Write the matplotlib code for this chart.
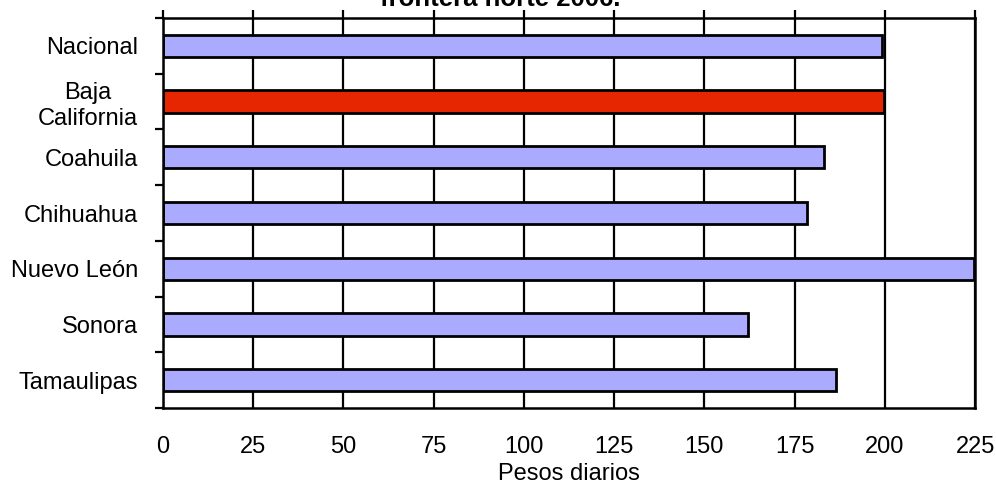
import matplotlib.pyplot as plt
import numpy as np

plt.rcParams['font.family'] = ['Liberation Sans', 'DejaVu Sans']

estados = ['Nacional', 'Baja\nCalifornia', 'Coahuila', 'Chihuahua',
           'Nuevo León', 'Sonora', 'Tamaulipas']
pesos = [199.2, 199.7, 183.0, 178.3, 224.7, 162.2, 186.4]
resaltado = 'Baja\nCalifornia'
xticks = [0, 25, 50, 75, 100, 125, 150, 175, 200, 225]

lila = '#AAAAFF'
rojo = '#E62600'

fig = plt.figure(figsize=(9.96, 4.87), dpi=100)
ax = fig.add_axes([0.1637, 0.162, 0.8153, 0.801])

pos = np.arange(len(estados))
colores = [rojo if e == resaltado else lila for e in estados]
ax.barh(pos, pesos, height=0.4, color=colores, edgecolor='black',
        linewidth=2.0, zorder=3)

ax.set_xlim(0, 225)
ax.set_ylim(len(estados) - 0.5, -0.5)
ax.set_xticks(xticks)
ax.xaxis.grid(True, color='black', linewidth=1.6, zorder=0)

# etiquetas abajo, marcas arriba
ax.tick_params(axis='x', which='major', bottom=False, top=True, direction='out',
               length=6, width=1.6, labelsize=17, pad=14, color='black')
ax.set_yticks(pos)
ax.set_yticklabels(estados, fontsize=17, ha='right', multialignment='center')
ax.set_yticks(np.arange(len(estados) + 1) - 0.5, minor=True)
ax.tick_params(axis='y', which='major', length=0, pad=18)
ax.tick_params(axis='y', which='minor', length=6, width=1.6, direction='out')

for s in ax.spines.values():
    s.set_linewidth(1.8)
    s.set_color('black')
    s.set_zorder(4)

ax.set_xlabel('Pesos diarios', fontsize=17, labelpad=4)

fig.text(0.502, 0.978, 'frontera norte 2006.', ha='center', va='bottom',
         fontsize=18.5, fontweight='bold')

fig.savefig('out.png', dpi=100)
